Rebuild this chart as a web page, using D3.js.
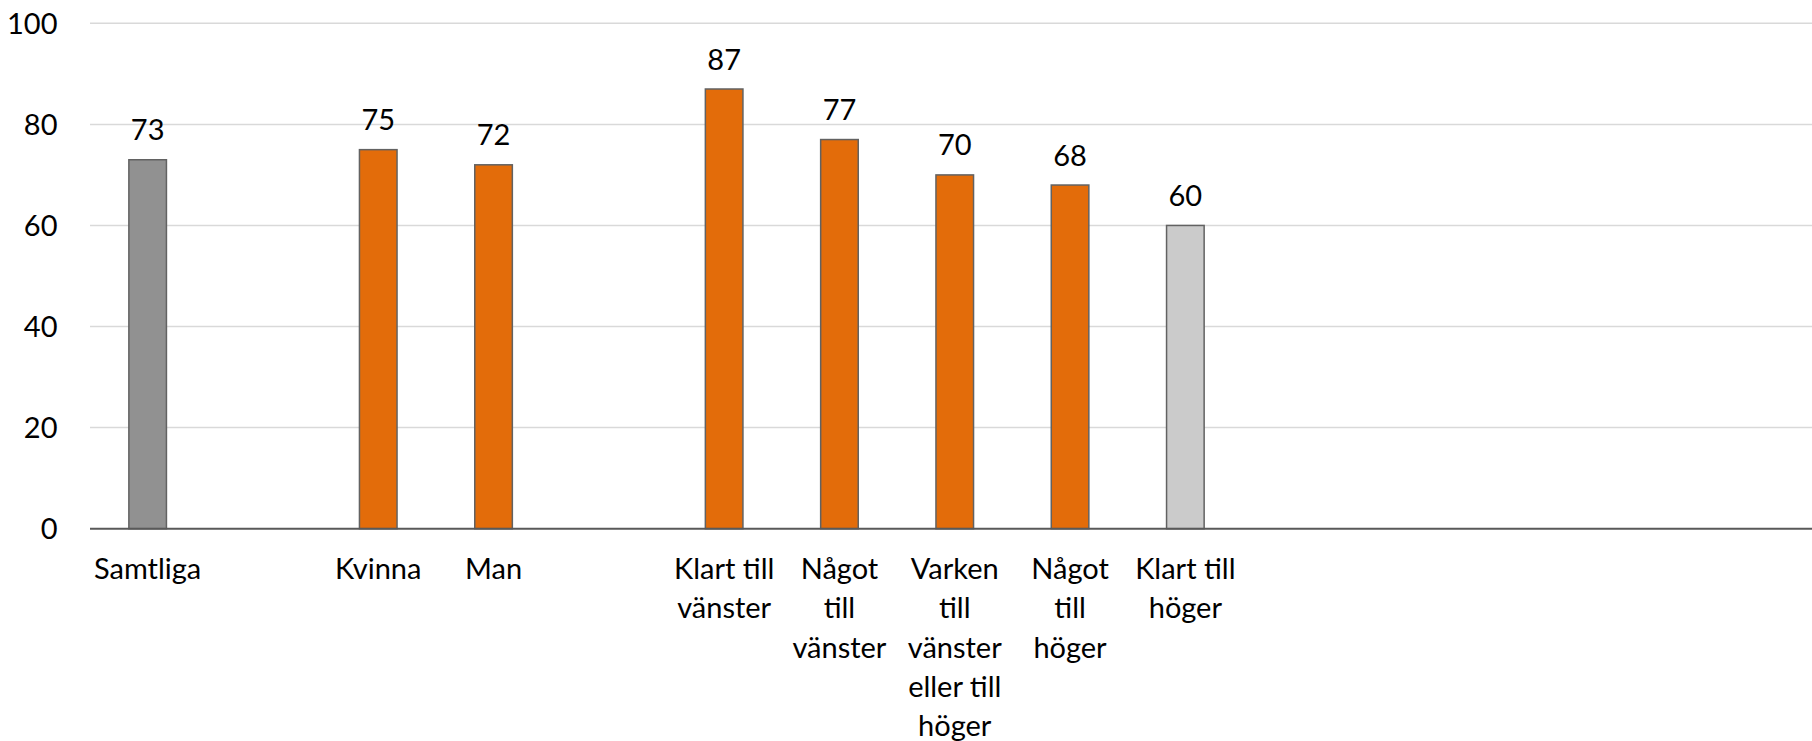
<!DOCTYPE html>
<meta charset="utf-8">
<style>
  body { margin: 0; background: #fff; }
  text { font-family: Lato, "Open Sans", sans-serif; fill: #000; }
</style>
<svg width="1812" height="741"></svg>
<script src="https://d3js.org/d3.v7.min.js"></script>
<script>
// categories (empty slots are spacer columns in the original chart)
const categories = ["Samtliga", "", "Kvinna", "Man", "",
  "Klart till\nvänster", "Något\ntill\nvänster", "Varken\ntill\nvänster\neller till\nhöger",
  "Något\ntill\nhöger", "Klart till\nhöger", "", "", "", "", ""];
const values = [73, null, 75, 72, null, 87, 77, 70, 68, 60, null, null, null, null, null];
const groups = ["total", "", "sex", "sex", "", "pol", "pol", "pol", "pol", "right", "", "", "", "", ""];
const yTicks = [0, 20, 40, 60, 80, 100];

const fillFor = {total: "#919191", sex: "#e36c0a", pol: "#e36c0a", right: "#cbcbcb"};

var svg = d3.select("svg"),
    left = 90,
    step = 115.3,
    y0 = 528.7,
    y100 = 23.3;

var x = d3.scaleBand()
    .domain(d3.range(categories.length))
    .range([left, left + step * categories.length])
    .paddingInner(0.674)
    .paddingOuter(0.337);

var y = d3.scaleLinear().domain([0, 100]).range([y0, y100]);

// gridlines
svg.append("g").selectAll("line")
  .data(yTicks.filter(d => d > 0))
  .join("line")
    .attr("x1", left).attr("x2", 1812)
    .attr("y1", d => y(d)).attr("y2", d => y(d))
    .attr("stroke", "#d9d9d9").attr("stroke-width", 1.5);

// y tick labels
svg.append("g").selectAll("text")
  .data(yTicks)
  .join("text")
    .attr("x", 57.5)
    .attr("y", d => y(d))
    .attr("dy", "0.36em")
    .attr("text-anchor", "end")
    .attr("font-size", 29)
    .text(d => d);

// bars
var data = values.map((v, i) => ({i: i, v: v, g: groups[i]})).filter(d => d.v != null);

svg.append("g").selectAll("rect")
  .data(data)
  .join("rect")
    .attr("x", d => x(d.i))
    .attr("y", d => y(d.v))
    .attr("width", x.bandwidth())
    .attr("height", d => y(0) - y(d.v))
    .attr("fill", d => fillFor[d.g])
    .attr("stroke", "#626262")
    .attr("stroke-width", 1.5);

// value labels
svg.append("g").selectAll("text")
  .data(data)
  .join("text")
    .attr("x", d => x(d.i) + x.bandwidth() / 2)
    .attr("y", d => y(d.v) - 19.5)
    .attr("text-anchor", "middle")
    .attr("font-size", 29)
    .text(d => d.v);

// category axis line
svg.append("line")
  .attr("x1", left).attr("x2", 1812)
  .attr("y1", y0).attr("y2", y0)
  .attr("stroke", "#595959").attr("stroke-width", 2);

// category labels (wrapped)
var lab = svg.append("g").selectAll("text")
  .data(categories.map((c, i) => ({i: i, c: c})).filter(d => d.c))
  .join("text")
    .attr("x", d => x(d.i) + x.bandwidth() / 2)
    .attr("y", 579)
    .attr("text-anchor", "middle")
    .attr("font-size", 29);

lab.selectAll("tspan")
  .data(d => d.c.split("\n").map(s => ({s: s, x: x(d.i) + x.bandwidth() / 2})))
  .join("tspan")
    .attr("x", d => d.x)
    .attr("dy", (d, k) => k === 0 ? 0 : 39.3)
    .text(d => d.s);
</script>
